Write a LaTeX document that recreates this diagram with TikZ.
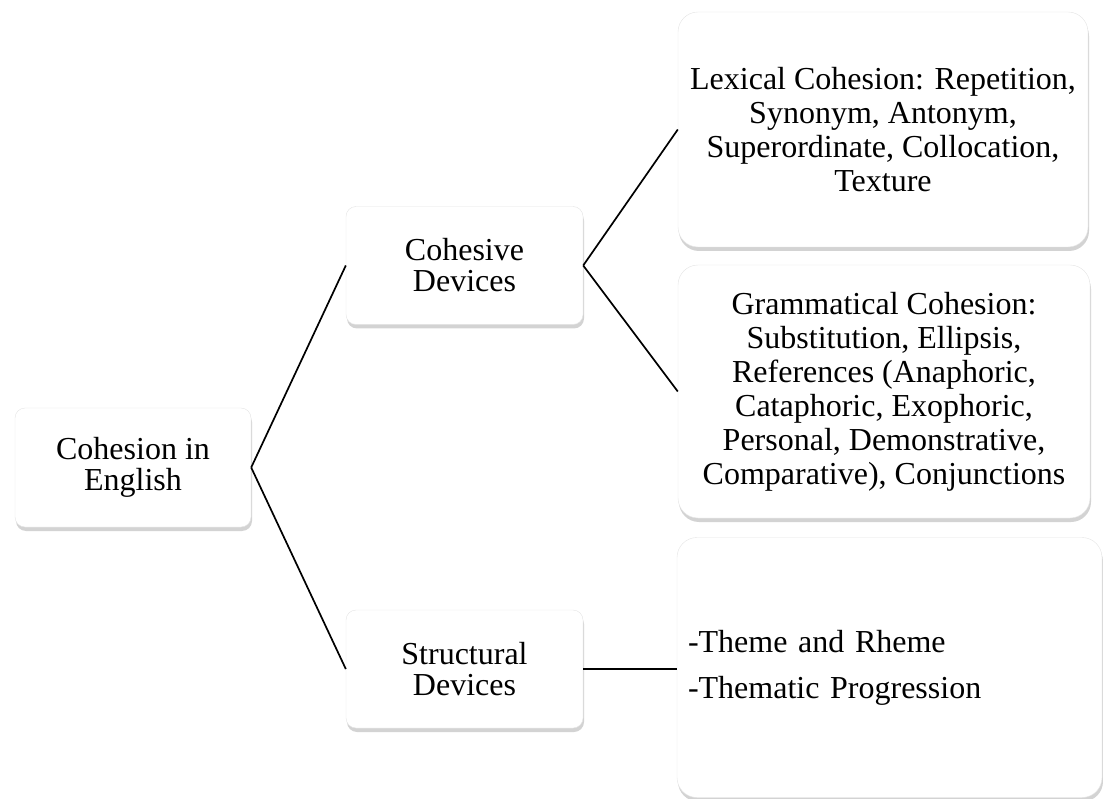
\documentclass[tikz,border=0pt]{standalone}
\usepackage{fontspec}
\setmainfont{Liberation Serif}
\usetikzlibrary{positioning, shadows}
\definecolor{rim}{HTML}{E4E4E4}
\definecolor{shade}{HTML}{6E6E6E}
\definecolor{ink}{HTML}{000000}

\begin{document}
\begin{tikzpicture}[x=1pt, y=-1pt,
      every node/.style={font=\fontsize{32}{31}\selectfont, text=ink},
      box/.style={draw=rim, fill=white, rounded corners=10pt,
        align=center, inner sep=0pt,
        minimum width=237pt, minimum height=118pt,
        drop shadow={shadow xshift=1pt, shadow yshift=-4pt,
          fill=shade, opacity=0.3}},
      bigbox/.style={box, rounded corners=20pt,
        font=\fontsize{32}{34}\selectfont},
      link/.style={draw=ink, line width=1.7pt}]

    \useasboundingbox (0,0) rectangle (1103,799);

    % left column
    \node[box, minimum width=236pt, minimum height=119pt] (root) at (133,467.5) {Cohesion in\\English};

    % middle column
    \node[box] (cohesive) at (464.5,265.5) {Cohesive\\Devices};
    \node[box] (structural) at (464.5,669) {Structural\\Devices};

    % right column
    \node[bigbox, minimum width=410pt, minimum height=235pt] (lexical) at (883,129.5)
      {Lexical Cohesion: Repetition,\\Synonym, Antonym,\\Superordinate, Collocation,\\Texture};
    \node[bigbox, minimum width=412pt, minimum height=253pt] (grammatical) at (884,391.5)
      {Grammatical Cohesion:\\Substitution, Ellipsis,\\References (Anaphoric,\\Cataphoric, Exophoric,\\Personal, Demonstrative,\\Comparative), Conjunctions};
    \node[bigbox, minimum width=425pt, minimum height=260pt, text width=403pt,
      inner xsep=11pt, align=left] (items) at (889.5,667.5)
      {-Theme and Rheme\\[12pt]-Thematic Progression};

    \draw[link] (root.east) -- (cohesive.west);
    \draw[link] (root.east) -- (structural.west);
    \draw[link] (cohesive.east) -- (lexical.west);
    \draw[link] (cohesive.east) -- (grammatical.west);
    \draw[link] (structural.east) -- (structural.east -| items.west);
  \end{tikzpicture}
\end{document}
